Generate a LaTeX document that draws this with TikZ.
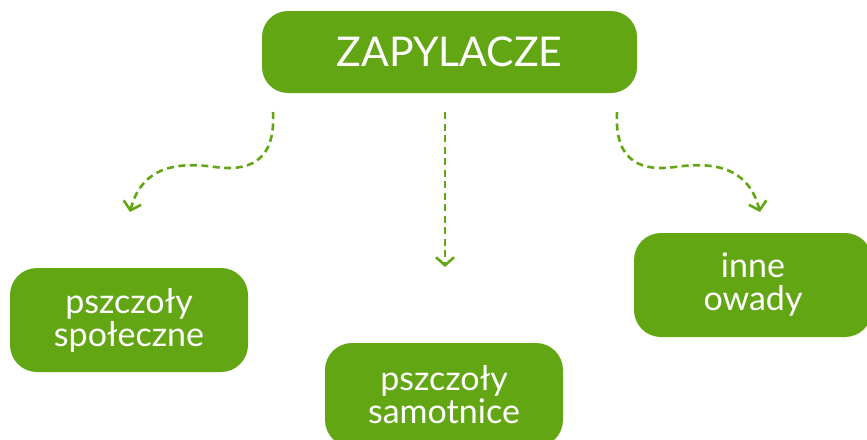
\documentclass[tikz,border=0pt]{standalone}
\usepackage{fontspec}
\setmainfont{Lato}
\usetikzlibrary{arrows.meta}
\definecolor{leaf}{HTML}{62A613}
\tikzset{
  box/.style={fill=leaf, text=white, rounded corners=27pt, inner sep=0pt,
    minimum width=238pt, minimum height=104pt, align=center,
    font=\fontsize{34}{33}\selectfont},
  topbox/.style={box, minimum width=375pt, minimum height=82pt, rounded corners=26pt,
    font=\fontsize{41}{44}\selectfont},
  flow/.style={draw=leaf, line width=2.6pt, dash pattern=on 7pt off 4.5pt,
    -{Straight Barb[length=8pt,width=18pt,line width=2.6pt]}},
}
\begin{document}
\begin{tikzpicture}[x=1pt,y=-1pt]
\useasboundingbox (0,0) rectangle (867,439);
\clip (0,0) rectangle (867,439);
\node[topbox] (top) at (449.5,52) {ZAPYLACZE};
\node[box] (left) at (129,320) {pszczoły\\społeczne};
\node[box] (mid) at (444,395) {pszczoły\\samotnice};
\node[box] (right) at (753,285) {inne\\owady};
\coordinate (ls) at (273,112);
\coordinate (le) at (130,212);
\coordinate (ms) at (445,112);
\coordinate (me) at (445,267);
\coordinate (rs) at (617,112);
\coordinate (re) at (760,212);
\draw[flow] (ls) .. controls (276,165) and (245,171) .. (215,167)
  .. controls (180,162) and (142,165) .. (le);
\draw[flow] (ms) -- (me);
\draw[flow] (rs) .. controls (614,165) and (645,171) .. (675,167)
  .. controls (710,162) and (748,165) .. (re);
\end{tikzpicture}
\end{document}
